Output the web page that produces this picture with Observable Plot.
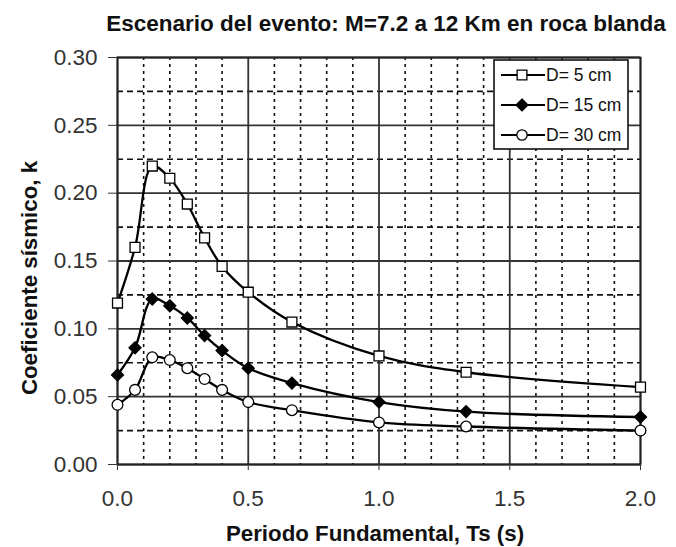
<!DOCTYPE html>
<html>
<head>
<meta charset="utf-8">
<script src="https://cdn.jsdelivr.net/npm/d3@7"></script>
<script src="https://cdn.jsdelivr.net/npm/@observablehq/plot@0.6"></script>
<style>
  html, body { margin: 0; padding: 0; background: #fff; }
  #chart svg { display: block; }
</style>
</head>
<body>
<div id="chart"></div>
<script>
const title = "Escenario del evento: M=7.2 a 12 Km en roca blanda";
const xLabel = "Periodo Fundamental, Ts (s)";
const yLabel = "Coeficiente sísmico, k";

const periods = [0, 0.067, 0.133, 0.2, 0.267, 0.333, 0.4, 0.5, 0.667, 1.0, 1.333, 2.0];
const d5  = [0.119, 0.160, 0.220, 0.211, 0.192, 0.167, 0.146, 0.127, 0.105, 0.080, 0.068, 0.057];
const d15 = [0.066, 0.086, 0.122, 0.117, 0.108, 0.095, 0.084, 0.071, 0.060, 0.046, 0.039, 0.035];
const d30 = [0.044, 0.055, 0.079, 0.077, 0.071, 0.063, 0.055, 0.046, 0.040, 0.031, 0.028, 0.025];

const seriesNames = ["D= 5 cm", "D= 15 cm", "D= 30 cm"];
const seriesValues = [d5, d15, d30];
const seriesSymbols = ["square", "diamond2", "circle"];
const seriesFills = ["white", "black", "white"];

const xTicks = [0, 0.5, 1.0, 1.5, 2.0];
const yTicks = [0, 0.05, 0.10, 0.15, 0.20, 0.25, 0.30];
const xMinor = [0.1, 0.2, 0.3, 0.4, 0.6, 0.7, 0.8, 0.9, 1.1, 1.2, 1.3, 1.4, 1.6, 1.7, 1.8, 1.9];
const yMinor = [0.025, 0.075, 0.125, 0.175, 0.225, 0.275];

const rows = seriesNames.flatMap((name, i) =>
  periods.map((p, j) => ({series: name, idx: i, x: p, y: seriesValues[i][j]})));

const font = "'Liberation Sans', Arial, Helvetica, sans-serif";

const marks = [
  Plot.ruleX(xMinor, {stroke: "#111", strokeWidth: 1.6, strokeDasharray: "3,4"}),
  Plot.ruleY(yMinor, {stroke: "#111", strokeWidth: 1.6, strokeDasharray: "6,4"}),
  Plot.ruleX(xTicks, {stroke: "#333", strokeWidth: 1.8}),
  Plot.ruleY(yTicks, {stroke: "#333", strokeWidth: 1.8}),
  Plot.frame({stroke: "#222", strokeWidth: 1.8}),
  Plot.axisX(xTicks, {tickFormat: d3.format(".1f"), tickSize: 6, tickPadding: 20, fontSize: 22.5, label: null, color: "#333"}),
  Plot.axisY(yTicks, {tickFormat: d3.format(".2f"), tickSize: 9, tickPadding: 11, fontSize: 22.5, label: null, color: "#333"})
];
seriesNames.forEach((name, i) => {
  const data = rows.filter(d => d.idx === i);
  marks.push(Plot.line(data, {x: "x", y: "y", stroke: "black", strokeWidth: 2.3, curve: "catmull-rom"}));
  marks.push(Plot.dot(data, {x: "x", y: "y", symbol: () => seriesSymbols[i], r: i === 0 ? 5.6 : 5.4,
    fill: seriesFills[i], stroke: "black", strokeWidth: 1.3}));
});

const plot = Plot.plot({
  width: 676,
  height: 547,
  marginTop: 57,
  marginRight: 36,
  marginBottom: 83,
  marginLeft: 117,
  style: {fontFamily: font, background: "white", color: "#333"},
  x: {domain: [0, 2]},
  y: {domain: [0, 0.30]},
  symbol: {type: "identity"},
  marks
});

const svg = d3.select(plot);

// Title
svg.append("text").attr("x", 386).attr("y", 31).attr("text-anchor", "middle")
  .attr("font-family", font).attr("font-weight", "bold").attr("font-size", 22.5).attr("fill", "#111")
  .text(title);
// Axis labels
svg.append("text").attr("x", 375).attr("y", 541).attr("text-anchor", "middle")
  .attr("font-family", font).attr("font-weight", "bold").attr("font-size", 22.3).attr("fill", "#111")
  .text(xLabel);
svg.append("text").attr("transform", "translate(37,278) rotate(-90)").attr("text-anchor", "middle")
  .attr("font-family", font).attr("font-weight", "bold").attr("font-size", 22.3).attr("fill", "#111")
  .text(yLabel);

// Legend
const lg = svg.append("g");
const lx = 494, ly = 60, lw = 134, lh = 89;
lg.append("rect").attr("x", lx).attr("y", ly).attr("width", lw).attr("height", lh)
  .attr("fill", "white").attr("stroke", "#111").attr("stroke-width", 1.6);
const legSyms = [d3.symbolSquare, d3.symbolDiamond2 || d3.symbolDiamond, d3.symbolCircle];
const legSizes = [95, 90, 85];
seriesNames.forEach((name, i) => {
  const cy = ly + 15 + i * 30;
  lg.append("line").attr("x1", lx + 7).attr("x2", lx + 51).attr("y1", cy).attr("y2", cy)
    .attr("stroke", "black").attr("stroke-width", 2.2);
  lg.append("path").attr("d", d3.symbol(legSyms[i], legSizes[i])()).attr("transform", `translate(${lx + 28},${cy})`)
    .attr("fill", seriesFills[i]).attr("stroke", "black").attr("stroke-width", 1.3);
  lg.append("text").attr("x", lx + 52).attr("y", cy).attr("dy", "0.36em").attr("text-anchor", "start")
    .attr("font-family", font).attr("font-size", 17.5).attr("fill", "#111").text(name);
});

document.getElementById("chart").appendChild(plot);
</script>
</body>
</html>
